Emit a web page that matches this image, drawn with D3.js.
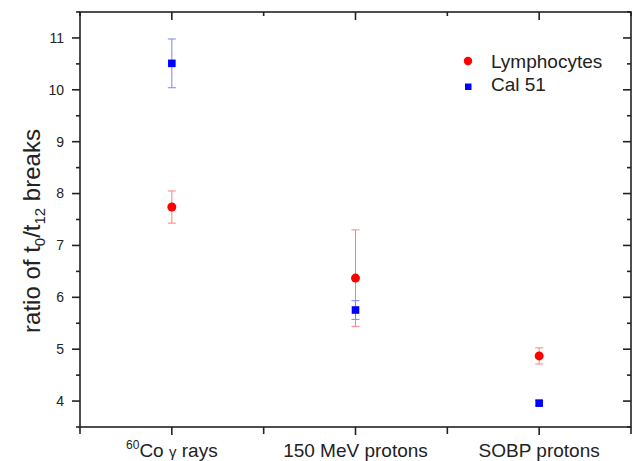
<!DOCTYPE html>
<html>
<head>
<meta charset="utf-8">
<script src="https://cdn.jsdelivr.net/npm/d3@7"></script>
<style>
  html, body { margin: 0; padding: 0; background: #fff; }
  svg { display: block; font-family: "Liberation Sans", Arial, sans-serif; }
</style>
</head>
<body>
<svg id="chart" width="636" height="461"></svg>
<script>
// ---- data ----
const categories = [1, 2, 3];
const categoryLabels = ["60Co γ rays", "150 MeV protons", "SOBP protons"];
const lymphocytes = [7.74, 6.37, 4.87];
const lymphocytesErr = [0.31, 0.93, 0.155];
const cal51 = [10.51, 5.755, 3.96];
const cal51Err = [0.47, 0.18, 0.05];
const yTicks = [4, 5, 6, 7, 8, 9, 10, 11];
const seriesNames = ["Lymphocytes", "Cal 51"];

// ---- layout ----
const svg = d3.select("#chart");
const pL = 80, pR = 631, pT = 12, pB = 427;
const x = d3.scaleLinear().domain([0.5, 3.5]).range([pL, pR]);
const y = d3.scaleLinear().domain([3.5, 11.5]).range([pB, pT]);
const axisColor = "#222";

const g = svg.append("g");

// frame
g.append("rect").attr("x", pL).attr("y", pT)
  .attr("width", pR - pL).attr("height", pB - pT)
  .attr("fill", "none").attr("stroke", axisColor).attr("stroke-width", 1.6);

// y ticks (left outward, right inward)
const yMinor = d3.range(3.5, 11.51, 0.5).filter(v => !yTicks.includes(v));
function tickLines(vals, len) {
  vals.forEach(v => {
    g.append("line").attr("x1", pL - len).attr("x2", pL)
      .attr("y1", y(v)).attr("y2", y(v)).attr("stroke", axisColor).attr("stroke-width", 1.6);
    g.append("line").attr("x1", pR - len).attr("x2", pR)
      .attr("y1", y(v)).attr("y2", y(v)).attr("stroke", axisColor).attr("stroke-width", 1.6);
  });
}
tickLines(yTicks, 8);
tickLines(yMinor, 4);

g.selectAll(".ytl").data(yTicks).enter().append("text")
  .attr("x", 64).attr("y", d => y(d)).attr("dy", "0.35em")
  .attr("text-anchor", "end").attr("font-size", 14).attr("fill", "#222")
  .text(d => d);

// x ticks
const xMinor = [0.5, 1.5, 2.5, 3.5];
function xTickLines(vals, lenB, lenT) {
  vals.forEach(v => {
    g.append("line").attr("x1", x(v)).attr("x2", x(v))
      .attr("y1", pB).attr("y2", pB + lenB).attr("stroke", axisColor).attr("stroke-width", 1.6);
    g.append("line").attr("x1", x(v)).attr("x2", x(v))
      .attr("y1", pT).attr("y2", pT + lenT).attr("stroke", axisColor).attr("stroke-width", 1.6);
  });
}
xTickLines(categories, 8, 8);
xTickLines(xMinor, 7, 4);

// x tick labels
categories.forEach((c, i) => {
  const t = g.append("text").attr("x", x(c)).attr("y", 457)
    .attr("text-anchor", "middle").attr("font-size", 19).attr("fill", "#222");
  if (i === 0) {
    t.append("tspan").attr("font-size", 12).attr("dy", -8).text("60");
    t.append("tspan").attr("dy", 8).text("Co ");
    t.append("tspan").attr("font-size", 15).text("γ");
    t.append("tspan").text(" rays");
  } else {
    t.text(categoryLabels[i]);
  }
});

// y axis title
const yt = g.append("text")
  .attr("transform", "translate(40," + 231 + ") rotate(-90)")
  .attr("text-anchor", "middle").attr("font-size", 24).attr("fill", "#222");
yt.append("tspan").text("ratio of t");
yt.append("tspan").attr("font-size", 15).attr("dy", 5).text("0");
yt.append("tspan").attr("dy", -5).text("/t");
yt.append("tspan").attr("font-size", 15).attr("dy", 5).text("12");
yt.append("tspan").attr("dy", -5).text(" breaks");

// error bars + markers
function drawSeries(vals, errs, color, errColor, shape) {
  const sg = g.append("g");
  categories.forEach((c, i) => {
    const cx = x(c), v = vals[i], e = errs[i];
    sg.append("line").attr("x1", cx).attr("x2", cx)
      .attr("y1", y(v + e)).attr("y2", y(v - e))
      .attr("stroke", errColor).attr("stroke-width", 1);
    [v + e, v - e].forEach(w => {
      sg.append("line").attr("x1", cx - 4).attr("x2", cx + 4)
        .attr("y1", y(w)).attr("y2", y(w))
        .attr("stroke", errColor).attr("stroke-width", 1);
    });
  });
  categories.forEach((c, i) => {
    const cx = x(c), cy = y(vals[i]);
    if (shape === "circle") {
      sg.append("circle").attr("cx", cx).attr("cy", cy).attr("r", 4.5).attr("fill", color);
    } else {
      sg.append("rect").attr("x", cx - 3.8).attr("y", cy - 3.8)
        .attr("width", 7.6).attr("height", 7.6).attr("fill", color);
    }
  });
}
drawSeries(lymphocytes, lymphocytesErr, "#ff0000", "#ff8080", "circle");
drawSeries(cal51, cal51Err, "#0000ff", "#8080ff", "square");

// legend
const lg = g.append("g");
lg.append("circle").attr("cx", 468).attr("cy", 61).attr("r", 4.2).attr("fill", "#ff0000");
lg.append("rect").attr("x", 465).attr("y", 83.5).attr("width", 6.5).attr("height", 6.5).attr("fill", "#0000ff");
lg.append("text").attr("x", 491).attr("y", 67.7).attr("font-size", 19).attr("fill", "#222").text(seriesNames[0]);
lg.append("text").attr("x", 491).attr("y", 90.7).attr("font-size", 19).attr("fill", "#222").text(seriesNames[1]);
</script>
</body>
</html>
